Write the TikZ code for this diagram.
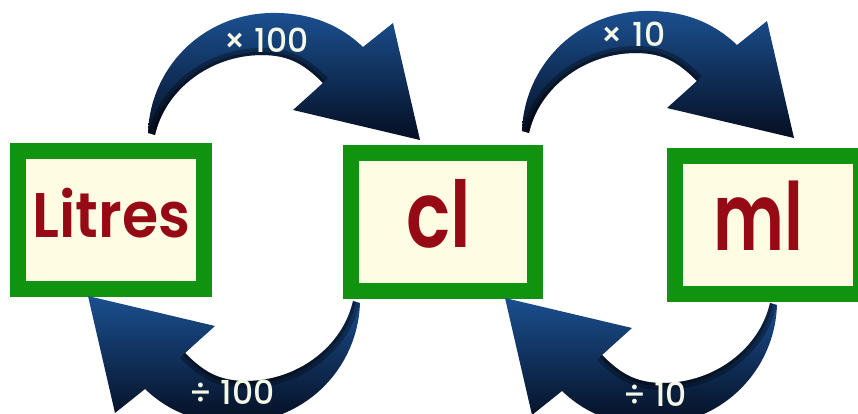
\documentclass[tikz,border=0pt]{standalone}
\usepackage{fontspec}
\newfontfamily\cfont{Poppins SemiBold}
\newfontfamily\lfont{Poppins Medium}
\definecolor{boxgreen}{RGB}{16,148,16}
\definecolor{boxcream}{RGB}{254,252,226}
\definecolor{wordred}{RGB}{150,10,22}
\definecolor{arrowtop}{RGB}{28,82,148}
\definecolor{arrowmid}{RGB}{18,60,115}
\definecolor{arrowdark}{RGB}{4,12,30}
\definecolor{labelwhite}{RGB}{244,248,230}
\newcommand{\arrowpath}{(148,133) .. controls (150,70) and (200,15) .. (270,13)
  .. controls (310,12) and (340,25) .. (363,47) -- (393,23) -- (420,140) -- (293,110) -- (323,83)
  .. controls (305,65) and (290,55) .. (262,55) .. controls (210,55) and (165,90) .. (155,135) -- cycle}
\newcommand{\innerpath}{(323,83) .. controls (305,65) and (290,55) .. (262,55) .. controls (210,55) and (165,90) .. (155,135)}
\newcommand{\drawarrow}{%
  \begin{scope}
    \clip \arrowpath;
    \shade[top color=arrowtop, middle color=arrowmid, bottom color=arrowdark] (140,8) rectangle (425,145);
    \draw[line width=14pt, black, opacity=0.3] \innerpath;
    \draw[line width=6pt, black, opacity=0.3] \innerpath;
  \end{scope}}
\begin{document}
\begin{tikzpicture}[x=1pt,y=-1pt,
  box/.style={draw=boxgreen, line width=16pt, fill=boxcream, inner sep=0pt},
  word/.style={text=wordred, anchor=base, inner sep=0pt},
  oplabel/.style={text=labelwhite, font=\lfont\fontsize{33}{33}\selectfont, inner sep=0pt}]
\useasboundingbox (0,0) rectangle (858,414);
% boxes
\node[box, minimum width=186pt, minimum height=138pt] (litres) at (111,220) {};
\node[box, minimum width=184pt, minimum height=138pt] (cl) at (443,222) {};
\node[box, minimum width=186pt, minimum height=138pt] (ml) at (768,225) {};
\node[word, font=\cfont\fontsize{63}{63}\selectfont] (litrestxt) at (111.5,237) {\scalebox{0.93}[1]{Litres}};
\node[word, font=\cfont\fontsize{92}{92}\selectfont] (cltxt) at (439,247) {\scalebox{0.8}[1]{cl}};
\node[word, font=\cfont\fontsize{94}{94}\selectfont] (mltxt) at (758,250) {\scalebox{0.72}[1]{ml}};
% arrows
\begin{scope}\drawarrow\end{scope}
\begin{scope}[shift={(374,-2)}]\drawarrow\end{scope}
\begin{scope}[rotate around={180:(254,218)}]\drawarrow\end{scope}
\begin{scope}[shift={(417,2)}, rotate around={180:(254,218)}]\drawarrow\end{scope}
% labels
\node[oplabel] (m100) at (266,40) {× 100};
\node[oplabel] (m10) at (633,34) {× 10};
\node[oplabel] (d100) at (232,392) {÷ 100};
\node[oplabel] (d10) at (655,394) {÷ 10};
\end{tikzpicture}
\end{document}
